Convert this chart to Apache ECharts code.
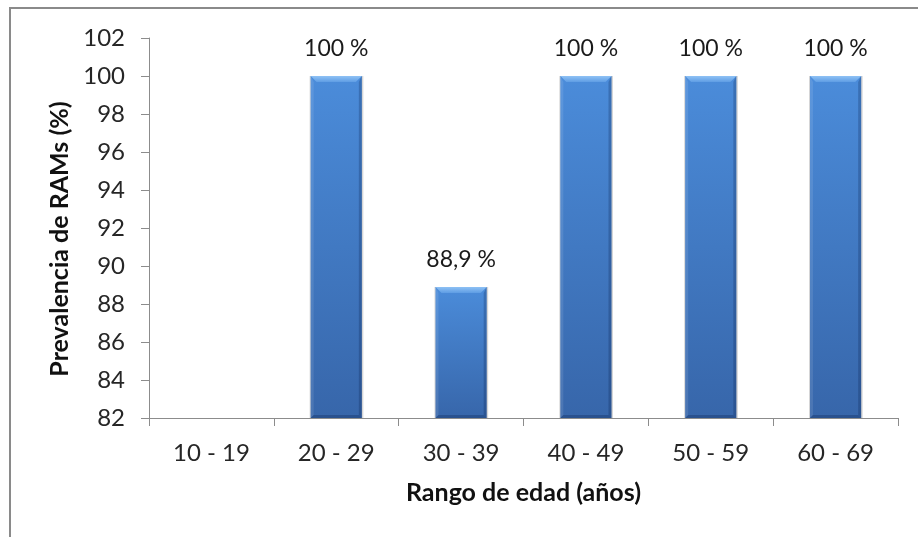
<!DOCTYPE html>
<html>
<head>
<meta charset="utf-8">
<script src="https://cdn.jsdelivr.net/npm/echarts@6/dist/echarts.min.js"></script>
<style>
  html, body { margin: 0; padding: 0; background: #fff; }
  #chart { width: 918px; height: 537px; }
</style>
</head>
<body>
<div id="chart"></div>
<script>
// Age groups and prevalence of adverse drug reactions (%)
const categories = ['10 - 19', '20 - 29', '30 - 39', '40 - 49', '50 - 59', '60 - 69'];
const prevalence = [null, 100, 88.9, 100, 100, 100];
const yMin = 82;
const yMax = 102;
const yStep = 2;

const FONT = 'Lato, "Open Sans", sans-serif';
const TEXT = '#262626';

function pctLabel(v) {
  return String(v).replace('.', ',') + ' %';
}

// Bevelled bar drawn from the axis scales
function renderBevelBar(params, api) {
  const v = api.value(1);
  if (v == null || isNaN(v)) return null;
  const cat = api.value(0);
  const topPt = api.coord([cat, v]);
  const basePt = api.coord([cat, yMin]);
  const bw = api.size([1, 0])[0] * 0.41;
  const x = topPt[0] - bw / 2;
  const y = topPt[1];
  const h = basePt[1] - topPt[1];
  const b = 6;
  const r = x + bw, btm = y + h;
  return {
    type: 'group',
    children: [
      { type: 'rect', shape: { x: x - 1, y: y, width: bw + 2.5, height: h },
        style: { fill: 'rgba(0,0,0,0.16)' } },
      { type: 'rect', shape: { x: x, y: y, width: bw, height: h },
        style: { fill: new echarts.graphic.LinearGradient(0, 0, 0, 1, [
          { offset: 0, color: '#4b8cda' },
          { offset: 1, color: '#3766aa' }
        ]) } },
      // left edge
      { type: 'polygon', shape: { points: [[x, y], [x + b * 0.5, y + b], [x + b * 0.5, btm - b * 0.5], [x, btm]] },
        style: { fill: 'rgba(255,255,255,0.10)' } },
      // right edge
      { type: 'polygon', shape: { points: [[r, y], [r - b * 0.5, y + b], [r - b * 0.5, btm - b * 0.5], [r, btm]] },
        style: { fill: 'rgba(0,20,60,0.22)' } },
      // bottom edge
      { type: 'polygon', shape: { points: [[x, btm], [x + b * 0.5, btm - b * 0.5], [r - b * 0.5, btm - b * 0.5], [r, btm]] },
        style: { fill: 'rgba(0,20,60,0.25)' } },
      // top bevel
      { type: 'polygon', shape: { points: [[x, y], [r, y], [r - b, y + b], [x + b, y + b]] },
        style: { fill: new echarts.graphic.LinearGradient(0, 0, 0, 1, [
          { offset: 0, color: '#8fc2f5' },
          { offset: 1, color: '#5f9de4' }
        ]) } },
      { type: 'text', x: topPt[0], y: y - 16,
        style: { text: pctLabel(v), align: 'center', verticalAlign: 'bottom',
                 font: '23px ' + FONT, fill: '#1a1a1a' } }
    ]
  };
}

const chart = echarts.init(document.getElementById('chart'), null, { renderer: 'canvas' });
chart.setOption({
  animation: false,
  backgroundColor: '#ffffff',
  graphic: [{
    type: 'rect', silent: true, z: 0,
    shape: { x: 10, y: 8, width: 1200, height: 1200 },
    style: { fill: 'none', stroke: '#8a8a8a', lineWidth: 2 }
  }],
  grid: { left: 149, right: 20, top: 38, bottom: 119, containLabel: false },
  xAxis: {
    type: 'category',
    data: categories,
    name: 'Rango de edad (años)',
    nameLocation: 'middle',
    nameGap: 62,
    nameTextStyle: { fontFamily: FONT, fontSize: 25, fontWeight: 'bold', color: '#111' },
    axisLine: { lineStyle: { color: '#8c8c8c', width: 1 } },
    axisTick: { show: true, alignWithLabel: false, length: 8, lineStyle: { color: '#8c8c8c' } },
    axisLabel: { fontFamily: FONT, fontSize: 24, color: TEXT, margin: 23 },
    splitLine: { show: false }
  },
  yAxis: {
    type: 'value',
    min: yMin, max: yMax, interval: yStep,
    name: 'Prevalencia de RAMs (%)',
    nameLocation: 'middle',
    nameGap: 76,
    nameRotate: 90,
    nameTextStyle: { fontFamily: FONT, fontSize: 25, fontWeight: 'bold', color: '#111',
                     padding: [0, 22, 0, 0] },
    axisLine: { show: true, lineStyle: { color: '#8c8c8c', width: 1 } },
    axisTick: { show: true, length: 8, lineStyle: { color: '#8c8c8c' } },
    axisLabel: { fontFamily: FONT, fontSize: 24, color: TEXT, margin: 24 },
    splitLine: { show: false }
  },
  series: [{
    type: 'custom',
    renderItem: renderBevelBar,
    encode: { x: 0, y: 1 },
    data: prevalence.map((v, i) => [i, v == null ? '-' : v]),
    clip: false,
    z: 2
  }]
});
</script>
</body>
</html>
